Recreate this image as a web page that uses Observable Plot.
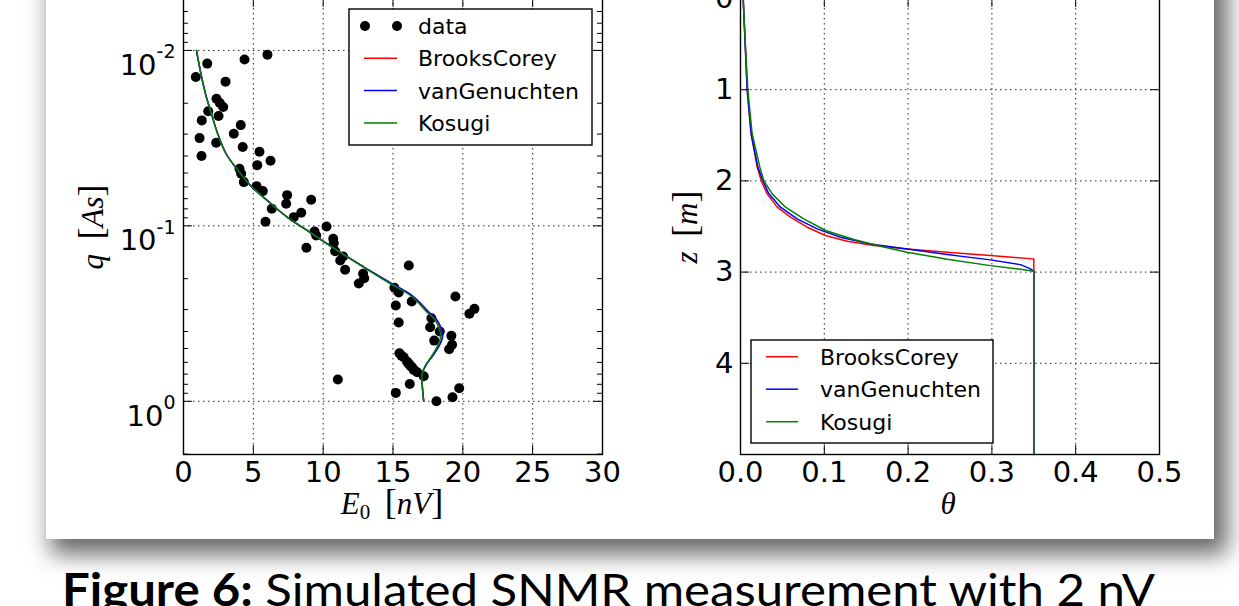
<!DOCTYPE html>
<html><head><meta charset="utf-8">
<script src="https://cdn.jsdelivr.net/npm/d3@7"></script>
<script src="https://cdn.jsdelivr.net/npm/@observablehq/plot@0.6"></script>
<style>
html,body{margin:0;padding:0;background:#fff;}
#page{position:relative;width:1239px;height:606px;overflow:hidden;background:#fff;}
#card{position:absolute;left:46px;top:-40px;width:1168px;height:579px;background:#fff;box-shadow:9px 11px 22px 4px rgba(0,0,0,0.6);}
.plot{position:absolute;top:-12px;}
#overlay{position:absolute;left:0;top:0;pointer-events:none;}
</style></head><body><div id="page"><div id="card"></div></div>
<script>
// ---------- data: left panel (SNMR sounding) ----------
const E0 = [1.70,4.37,6.01,0.88,3.01,2.36,2.60,2.84,1.77,2.51,1.31,4.10,3.60,1.15,2.34,4.24,1.29,5.44,6.23,5.28,4.01,4.13,4.32,5.23,5.68,7.42,9.14,7.35,6.32,8.43,7.90,5.87,10.24,9.38,9.50,10.72,10.76,8.80,10.86,11.43,11.22,11.57,16.13,12.86,12.94,12.55,15.10,15.41,19.47,16.34,15.20,20.83,20.47,17.75,15.41,17.66,18.35,19.18,17.95,19.23,19.02,15.46,15.77,16.01,16.25,16.49,17.20,11.05,16.20,19.74,15.20,19.26,18.11,15.60,16.13,16.37,16.73];
const qData = [0.01189,0.01128,0.01057,0.01419,0.01507,0.01884,0.01995,0.02104,0.02224,0.02367,0.02505,0.02666,0.02985,0.03162,0.03357,0.03556,0.04000,0.03777,0.04254,0.04508,0.04721,0.05045,0.05632,0.05937,0.06339,0.06683,0.07102,0.07482,0.07988,0.08420,0.08918,0.09477,0.1008,0.1076,0.1135,0.1185,0.1255,0.1333,0.1394,0.1495,0.1575,0.1779,0.1683,0.1876,0.1988,0.2132,0.2255,0.2399,0.2529,0.2700,0.2846,0.2972,0.3171,0.3363,0.3556,0.3784,0.4000,0.4236,0.4508,0.4766,0.5047,0.5322,0.5611,0.5942,0.6281,0.6622,0.7197,0.7516,0.7961,0.8433,0.8955,0.9490,1.000,0.549,0.612,0.640,0.683];
const qCurve = [0.01,0.01327,0.01762,0.02198,0.02985,0.03882,0.04624,0.05888,0.07161,0.08913,0.1062,0.1380,0.1722,0.2138,0.2495,0.3105,0.3467,0.3954,0.4315,0.4808,0.5483,0.6252,0.6982,0.7962,1.0];
const eBrooksCorey  = [0.93,1.22,1.57,1.93,2.45,3.05,3.72,4.80,5.99,7.42,8.85,11.0,12.94,14.90,16.34,17.55,18.15,18.47,18.52,18.30,17.85,17.33,17.09,17.09,17.20];
const eVanGenuchten = [0.93,1.22,1.57,1.93,2.45,3.05,3.72,4.80,5.99,7.42,8.85,11.0,12.95,14.92,16.37,17.58,18.18,18.50,18.55,18.32,17.86,17.34,17.09,17.09,17.20];
const eKosugi       = [0.93,1.22,1.57,1.93,2.45,3.05,3.72,4.80,5.99,7.42,8.85,11.0,12.91,14.82,16.25,17.44,18.04,18.35,18.40,18.20,17.80,17.32,17.09,17.09,17.20];

// ---------- data: right panel (water content profile) ----------
const zBrooksCorey  = [0,0.5,1.0,1.483,1.849,1.996,2.142,2.288,2.398,2.508,2.599,2.662,2.709,2.746,2.782,2.819,2.855,2.855,5.0];
const thBrooksCorey = [0.0032,0.0056,0.0080,0.0127,0.0199,0.0247,0.0318,0.0438,0.0597,0.0796,0.1014,0.1273,0.1591,0.1989,0.2466,0.2983,0.3481,0.35,0.35];
const zVanGenuchten  = [0,0.5,1.0,1.483,1.849,1.996,2.142,2.288,2.416,2.526,2.618,2.691,2.746,2.808,2.866,2.918,2.965,2.991,5.0];
const thVanGenuchten = [0.0032,0.0056,0.0080,0.0127,0.0207,0.0266,0.0338,0.0477,0.0676,0.0915,0.1193,0.1551,0.1989,0.2466,0.2983,0.3341,0.3461,0.35,0.35];
const zKosugi  = [0,0.5,1.0,1.483,1.849,1.996,2.142,2.288,2.416,2.544,2.643,2.716,2.782,2.859,2.929,2.969,2.991,5.0];
const thKosugi = [0.0032,0.0058,0.0087,0.0139,0.0231,0.0278,0.0378,0.0537,0.0756,0.1014,0.1352,0.1671,0.1989,0.2466,0.2983,0.3341,0.35,0.35];

// ---------- series, ticks, labels ----------
const models = ["BrooksCorey","vanGenuchten","Kosugi"];
const modelColors = ["#ff0000","#0000ff","#008000"];
const eTicks = [0,5,10,15,20,25,30];
const qMajor = [0.01,0.1,1];
const qMinor = [0.006,0.007,0.008,0.009,0.02,0.03,0.04,0.05,0.06,0.07,0.08,0.09,0.2,0.3,0.4,0.5,0.6,0.7,0.8,0.9,2];
const qTickLabels = ["10^-2","10^-1","10^0"];
const thTicks = [0,0.1,0.2,0.3,0.4,0.5];
const zTicks = [0,1,2,3,4];
const caption = ["Figure 6:", " Simulated SNMR measurement with 2 nV"];

// ---------- build tables ----------
const dataPts = E0.map((e,i)=>({e, q:qData[i]}));
const leftCurves = [eBrooksCorey,eVanGenuchten,eKosugi].map(arr => arr.map((e,i)=>({e, q:qCurve[i]})));
const rightCurves = [[thBrooksCorey,zBrooksCorey],[thVanGenuchten,zVanGenuchten],[thKosugi,zKosugi]]
  .map(([th,z]) => th.map((t,i)=>({t, z:z[i]})));

const font = '"DejaVu Sans", sans-serif';
const plotW = 419, plotH = 456, MT = 10, MB = 90, H = MT + plotH + MB;
const gridStyle = {stroke:"#000", strokeOpacity:0.85, strokeWidth:1, strokeDasharray:"1.5,3.5"};
const MAJ = 9, MIN = 5;
const style = {fontFamily: font, fontSize: "29px", color: "#000", background: "transparent", overflow: "visible", maxWidth: "none"};

const page = document.getElementById("page");

// ---------- left plot ----------
const left = Plot.plot({
  width: 622, height: H, marginLeft: 183, marginRight: 20, marginTop: MT, marginBottom: MB,
  style,
  x: {domain: [0, 30]},
  y: {type: "log", domain: [0.00506, 2.01], reverse: true},
  marks: [
    Plot.gridX(eTicks.filter(d => d > 0 && d < 30), gridStyle),
    Plot.gridY(qMajor, gridStyle),
    Plot.dot(dataPts, {x: "e", y: "q", r: 5, fill: "#000", stroke: null}),
    ...leftCurves.map((c, i) => Plot.line(c, {x: "e", y: "q", stroke: modelColors[i], strokeWidth: 1.5, curve: "catmull-rom"})),
    Plot.tickX(eTicks, {x: d => d, insetTop: plotH - MAJ, stroke: "#000"}),
    Plot.tickX(eTicks, {x: d => d, insetBottom: plotH - MAJ, stroke: "#000"}),
    Plot.tickY(qMajor, {y: d => d, insetRight: plotW - MAJ, stroke: "#000"}),
    Plot.tickY(qMajor, {y: d => d, insetLeft: plotW - MAJ, stroke: "#000"}),
    Plot.tickY(qMinor, {y: d => d, insetRight: plotW - MIN, stroke: "#000"}),
    Plot.tickY(qMinor, {y: d => d, insetLeft: plotW - MIN, stroke: "#000"}),
    Plot.frame({stroke: "#000", strokeWidth: 1.4}),
    Plot.axisX(eTicks, {tickSize: 0, tickPadding: 7, label: null, fontSize: 29}),
    Plot.axisY(qMajor, {tickSize: 0, tickPadding: 8, label: null, fontSize: 29,
      tickFormat: d => qTickLabels[qMajor.indexOf(d)]})
  ]
});
left.classList.add("plot");
left.style.left = "0px";
page.appendChild(left);

d3.select(left).selectAll('[aria-label="y-axis tick label"] text').each(function() {
  const s = this.textContent; const parts = s.split("^");
  const t = d3.select(this);
  t.text(null).attr("dy", "0.52em");
  t.append("tspan").text(parts[0]);
  t.append("tspan").attr("dy", -16.5).attr("font-size", 19).text(parts[1]);
});

// ---------- right plot ----------
const right = Plot.plot({
  width: 557, height: H, marginLeft: 118, marginRight: 20, marginTop: MT, marginBottom: MB,
  style,
  x: {domain: [0, 0.5]},
  y: {domain: [0, 5], reverse: true},
  marks: [
    Plot.gridX(thTicks.filter(d => d > 0 && d < 0.5), gridStyle),
    Plot.gridY(zTicks.filter(d => d > 0), gridStyle),
    ...rightCurves.map((c, i) => Plot.line(c, {x: "t", y: "z", stroke: modelColors[i], strokeWidth: 1.5})),
    Plot.tickX(thTicks, {x: d => d, insetTop: plotH - MAJ, stroke: "#000"}),
    Plot.tickX(thTicks, {x: d => d, insetBottom: plotH - MAJ, stroke: "#000"}),
    Plot.tickY(zTicks, {y: d => d, insetRight: plotW - MAJ, stroke: "#000"}),
    Plot.tickY(zTicks, {y: d => d, insetLeft: plotW - MAJ, stroke: "#000"}),
    Plot.frame({stroke: "#000", strokeWidth: 1.4}),
    Plot.axisX(thTicks, {tickSize: 0, tickPadding: 7, label: null, fontSize: 29, tickFormat: d3.format(".1f")}),
    Plot.axisY(zTicks, {tickSize: 0, tickPadding: 7, label: null, fontSize: 29, tickFormat: d3.format("d")})
  ]
});
right.classList.add("plot");
right.style.left = "622px";
page.appendChild(right);

// ---------- overlay: axis labels, legends, caption ----------
const ov = d3.select(page).append("svg").attr("id", "overlay").attr("width", 1239).attr("height", 606);
const serif = '"Liberation Serif", "DejaVu Serif", serif';

function mathLabel(x, y, parts, rotate) {
  const t = ov.append("text").attr("font-family", serif).attr("font-size", 31).attr("text-anchor", "middle")
    .attr("fill", "#000");
  if (rotate) t.attr("transform", `translate(${x},${y}) rotate(-90)`); else t.attr("x", x).attr("y", y);
  parts.forEach(p => {
    const s = t.append("tspan").text(p.t);
    if (p.i) s.attr("font-style", "italic");
    if (p.fs) s.attr("font-size", p.fs);
    if (p.dy) s.attr("dy", p.dy);
  });
  return t;
}
mathLabel(392, 514, [{t:"E", i:1}, {t:"0", fs:21, dy:5}, {t:"\u2009\u2009[", fs:36, dy:-5}, {t:"nV", i:1}, {t:"]", fs:36}]);
mathLabel(103, 227, [{t:"q", i:1}, {t:"\u2009\u2009[", fs:36}, {t:"As", i:1}, {t:"]", fs:36}], true);
mathLabel(948, 514, [{t:"\u03b8", i:1}]);
mathLabel(697, 227, [{t:"z", i:1}, {t:"\u2009\u2009[", fs:36}, {t:"m", i:1}, {t:"]", fs:36}], true);

function legend(x0, y0, w, h, rows) {
  const g = ov.append("g");
  g.append("rect").attr("x", x0).attr("y", y0).attr("width", w).attr("height", h)
    .attr("fill", "#fff").attr("stroke", "#000").attr("stroke-width", 1.4);
  rows.forEach(r => {
    if (r.dots) {
      [r.x1, r.x2].forEach(cx => g.append("circle").attr("cx", cx).attr("cy", r.y).attr("r", 5).attr("fill", "#000"));
    } else {
      g.append("line").attr("x1", r.x1).attr("x2", r.x2).attr("y1", r.y).attr("y2", r.y)
        .attr("stroke", r.color).attr("stroke-width", 1.5);
    }
    g.append("text").attr("x", r.tx).attr("y", r.y + 8).attr("font-family", font).attr("font-size", 22)
      .attr("fill", "#000").text(r.label);
  });
}
const leftRows = [{dots:true, label:"data", x1:365, x2:397, y:26, tx:418}]
  .concat(models.map((m, i) => ({label:m, color:modelColors[i], x1:364, x2:397, y:58.3 + i*32.3, tx:418})));
legend(349, 9, 243, 136, leftRows);
const rightRows = models.map((m, i) => ({label:m, color:modelColors[i], x1:766, x2:798, y:356.7 + i*32.5, tx:820}));
legend(751, 340, 242, 103, rightRows);

const cap = ov.append("text").attr("x", 62).attr("y", 606).attr("font-family", 'Lato, "Open Sans", sans-serif')
  .attr("font-size", 45).attr("fill", "#000").attr("textLength", 1093).attr("lengthAdjust", "spacingAndGlyphs");
cap.append("tspan").attr("font-weight", "bold").text(caption[0]);
cap.append("tspan").text(caption[1]);
</script>
</body></html>
